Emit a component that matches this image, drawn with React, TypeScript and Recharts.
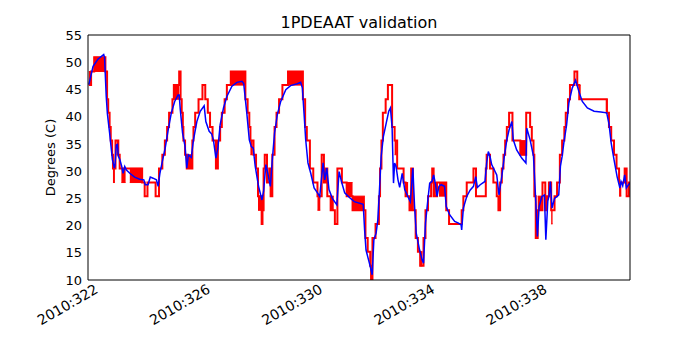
import { ComposedChart, Line, Area, XAxis, YAxis } from 'recharts';

// time axis is day-of-year 2010 (fractional days)
const majorDays = [322, 326, 330, 334, 338];
const minorDays = [322, 323, 324, 325, 326, 327, 328, 329, 330, 331, 332, 333, 334, 335, 336, 337, 338, 339, 340];
const tempTicks = [10, 15, 20, 25, 30, 35, 40, 45, 50, 55];

// telemetry (quantized, red step line)
const redDays = [
  321.67, 321.75, 321.86, 322.26, 322.32, 322.36, 322.41, 322.45, 322.5, 322.53, 322.62, 322.72, 322.77, 322.83,
  323.57, 323.66, 323.76, 324.05, 324.17, 324.29, 324.38, 324.46, 324.53, 324.65, 324.7, 324.89, 324.94, 324.98,
  325.02, 325.04, 325.1, 325.16, 325.36, 325.4, 325.46, 325.58, 325.72, 325.82, 325.91, 325.99, 326.08, 326.2,
  326.27, 326.35, 326.41, 326.51, 326.59, 326.73, 327.25, 327.33, 327.39, 327.43, 327.54, 327.63, 327.7, 327.83,
  327.86, 327.9, 327.94, 328.02, 328.1, 328.15, 328.21, 328.29, 328.36, 328.45, 328.57, 328.77, 329.3, 329.38,
  329.44, 329.55, 329.67, 329.82, 329.97, 330.05, 330.11, 330.17, 330.29, 330.44, 330.53, 330.69, 330.86, 331.07,
  331.53, 331.61, 331.7, 331.73, 331.78, 331.89, 332.01, 332.05, 332.1, 332.15, 332.25, 332.33, 332.48, 332.57,
  332.66, 332.89, 332.96, 333.1, 333.16, 333.22, 333.32, 333.4, 333.48, 333.6, 333.67, 333.76, 333.87, 333.91,
  333.96, 334.08, 334.41, 334.51, 334.96, 335.02, 335.14, 335.38, 335.47, 335.82, 335.85, 335.97, 336.09, 336.21,
  336.27, 336.33, 336.39, 336.45, 336.51, 336.57, 336.65, 336.77, 337.05, 337.26, 337.4, 337.46, 337.52, 337.55,
  337.6, 337.67, 337.84, 337.94, 338.0, 338.07, 338.15, 338.27, 338.36, 338.46, 338.54, 338.62, 338.67, 338.75,
  338.82, 338.98, 339.08, 339.15, 340.13, 340.21, 340.29, 340.39, 340.48, 340.57, 340.7, 340.77, 340.84, 340.92,
  340.96,
];
const redTemps = [
  45.8, 48.3, 50.9, 48.3, 43.2, 40.7, 38.1, 35.6, 33.0, 30.5, 35.6, 33.0, 30.5, 30.5,
  27.9, 25.4, 27.9, 25.4, 30.5, 33.0, 35.6, 38.1, 40.7, 43.2, 45.8, 48.3, 43.2, 40.7,
  38.1, 35.6, 33.0, 30.5, 35.6, 38.1, 40.7, 43.2, 45.8, 43.2, 40.7, 38.1, 35.6, 30.5,
  35.6, 38.1, 40.7, 43.2, 45.8, 48.3, 43.2, 40.7, 38.1, 35.6, 33.0, 30.5, 25.4, 20.3,
  22.8, 30.5, 33.0, 27.9, 30.5, 25.4, 33.0, 38.1, 40.7, 43.2, 45.8, 48.3, 43.2, 38.1,
  35.6, 30.5, 27.9, 25.4, 33.0, 27.9, 30.5, 25.4, 22.8, 20.3, 30.5, 27.9, 25.4, 22.8,
  17.7, 15.2, 12.6, 10.1, 17.7, 20.3, 25.4, 30.5, 35.6, 40.7, 43.2, 45.8, 38.1, 35.6,
  30.5, 27.9, 25.4, 22.8, 30.5, 22.8, 17.7, 15.2, 12.6, 17.7, 22.8, 25.4, 27.9, 30.5,
  25.4, 27.9, 22.8, 20.3, 22.8, 25.4, 27.9, 30.5, 25.4, 30.5, 33.0, 30.5, 27.9, 25.4,
  22.8, 27.9, 30.5, 33.0, 35.6, 38.1, 40.7, 35.6, 33.0, 40.7, 38.1, 35.6, 33.0, 25.4,
  17.7, 22.8, 27.9, 22.8, 25.4, 27.9, 22.8, 25.4, 27.9, 33.0, 35.6, 38.1, 40.7, 43.2,
  45.8, 48.3, 45.8, 43.2, 40.7, 38.1, 35.6, 33.0, 30.5, 27.9, 27.9, 30.5, 25.4, 27.9,
  27.9,
];

// stretches where the telemetry toggles between two adjacent counts
const ditherFrom = [321.67, 321.86, 322.53, 322.66, 322.83, 323.13, 324.7, 325.16, 326.73, 327.43, 327.7, 328.77, 329.82, 330.29, 330.86, 331.07, 332.57, 332.96, 333.48, 333.96, 334.15, 337.05, 337.67, 338.15, 339.15, 340.13, 340.57];
const ditherTo = [321.75, 322.26, 322.6, 322.72, 322.98, 323.57, 324.89, 325.36, 327.25, 327.51, 327.85, 329.3, 329.92, 330.4, 331.07, 331.51, 332.64, 333.05, 333.56, 334.04, 334.4, 337.26, 337.82, 338.2, 339.2, 340.17, 340.65];
const ditherLow = [45.8, 48.3, 27.9, 33.0, 27.9, 27.9, 43.2, 30.5, 45.8, 33.0, 22.8, 45.8, 22.8, 22.8, 25.4, 22.8, 33.0, 25.4, 12.6, 25.4, 25.4, 33.0, 22.8, 20.3, 43.2, 40.7, 25.4];
const ditherHigh = [48.3, 50.9, 30.5, 35.6, 30.5, 30.5, 45.8, 33.0, 48.3, 35.6, 25.4, 48.3, 25.4, 25.4, 27.9, 25.4, 35.6, 27.9, 15.2, 27.9, 27.9, 35.6, 25.4, 22.8, 45.8, 43.2, 27.9];

// model prediction (blue)
const blueDays = [
  321.67, 321.82, 322.0, 322.2, 322.23, 322.29, 322.33, 322.41, 322.51, 322.58, 322.6, 322.65, 322.69, 322.72,
  322.77, 322.84, 322.89, 322.95, 323.01, 323.13, 323.3, 323.48, 323.63, 323.68, 323.78, 323.86, 323.96, 324.08,
  324.14, 324.2, 324.29, 324.39, 324.5, 324.61, 324.73, 324.85, 324.89, 324.93, 325.01, 325.1, 325.16, 325.22,
  325.32, 325.4, 325.52, 325.64, 325.78, 325.84, 325.96, 326.05, 326.11, 326.2, 326.27, 326.35, 326.47, 326.59,
  326.77, 326.95, 327.13, 327.19, 327.3, 327.39, 327.46, 327.53, 327.6, 327.72, 327.84, 327.9, 327.98, 328.05,
  328.14, 328.21, 328.29, 328.39, 328.51, 328.69, 328.86, 329.1, 329.22, 329.28, 329.34, 329.4, 329.48, 329.58,
  329.7, 329.82, 329.9, 330.02, 330.08, 330.15, 330.23, 330.35, 330.51, 330.59, 330.68, 330.79, 330.95, 331.13,
  331.45, 331.5, 331.55, 331.67, 331.77, 331.83, 331.91, 331.97, 332.03, 332.09, 332.17, 332.27, 332.36, 332.42,
  332.48, 332.53, 332.57, 332.62, 332.69, 332.75, 332.84, 332.93, 333.04, 333.13, 333.22, 333.28, 333.34, 333.46,
  333.55, 333.6, 333.67, 333.76, 333.82, 333.9, 333.96, 334.03, 334.08, 334.15, 334.23, 334.35, 334.41, 334.53,
  334.71, 334.83, 334.94, 334.96, 335.02, 335.14, 335.26, 335.38, 335.46, 335.52, 335.62, 335.79, 335.85, 335.91,
  335.97, 336.03, 336.21, 336.29, 336.39, 336.48, 336.57, 336.65, 336.75, 336.8, 336.92, 337.1, 337.25, 337.28,
  337.4, 337.52, 337.58, 337.66, 337.72, 337.82, 337.91, 337.96, 338.03, 338.08, 338.12, 338.18, 338.27, 338.36,
  338.42, 338.48, 338.54, 338.6, 338.7, 338.78, 338.9, 339.02, 339.14, 339.26, 339.44, 339.68, 339.92, 340.13,
  340.21, 340.29, 340.39, 340.5, 340.6, 340.64, 340.7, 340.77, 340.83, 340.92, 340.96,
];
const blueTemps = [
  45.9, 49.25, 50.6, 51.4, 50.9, 43.7, 40.6, 37.0, 32.1, 30.55, 31.0, 34.8, 34.9, 32.7,
  32.2, 30.9, 29.6, 30.85, 30.2, 29.6, 28.9, 28.5, 28.4, 27.5, 27.5, 28.9, 28.7, 28.4,
  27.2, 29.5, 31.8, 34.2, 37.6, 40.7, 42.8, 44.0, 44.0, 41.3, 37.0, 34.5, 30.55, 33.0,
  32.5, 35.75, 39.1, 41.0, 42.0, 39.1, 37.3, 36.8, 35.75, 32.4, 34.2, 38.5, 41.6, 43.7,
  45.6, 46.3, 46.5, 46.1, 40.7, 35.75, 34.5, 34.2, 30.9, 27.2, 24.7, 26.3, 31.2, 29.6,
  27.2, 32.1, 37.0, 40.4, 42.8, 44.95, 45.7, 46.05, 46.3, 45.3, 40.7, 35.75, 31.5, 29.6,
  26.9, 26.0, 25.35, 31.5, 28.4, 30.55, 26.6, 25.0, 23.8, 29.9, 28.0, 26.0, 25.2, 24.4,
  23.9, 19.2, 15.5, 13.1, 10.95, 17.4, 18.6, 21.0, 26.6, 32.7, 36.4, 38.8, 41.0, 41.6,
  38.0, 27.8, 31.5, 30.9, 28.4, 27.0, 29.6, 26.6, 25.35, 24.4, 30.55, 23.6, 18.6, 15.5,
  13.7, 13.1, 20.45, 25.0, 27.8, 28.1, 29.3, 27.5, 25.35, 27.2, 27.5, 27.2, 23.5, 22.0,
  20.75, 20.5, 20.1, 19.2, 23.2, 25.35, 26.5, 27.2, 29.0, 27.0, 27.5, 28.1, 31.5, 33.6,
  32.7, 31.2, 29.3, 25.65, 29.0, 32.7, 35.75, 37.6, 39.1, 35.75, 33.9, 32.4, 31.5, 37.9,
  35.75, 32.7, 26.6, 18.0, 23.5, 25.35, 25.6, 17.4, 24.5, 25.6, 28.1, 23.2, 25.0, 25.35,
  25.65, 30.9, 32.7, 35.15, 38.5, 42.5, 45.25, 46.7, 44.6, 42.8, 41.6, 41.0, 40.85, 40.7,
  38.7, 35.15, 32.1, 29.0, 26.9, 28.1, 27.3, 29.3, 26.9, 27.6, 27.8,
];

const redData = redDays.map((d, i) => ({ d, t: redTemps[i] }));
const blueData = blueDays.map((d, i) => ({ d, t: blueTemps[i] }));
const ditherBands = ditherFrom.map((from, i) => [
  { d: from, r: [ditherLow[i], ditherHigh[i]] },
  { d: ditherTo[i], r: [ditherLow[i], ditherHigh[i]] },
]);

const font = '"DejaVu Sans", Verdana, sans-serif';
const dayDomain = [321.64, 340.96];
const tempDomain = [10, 55];
// axes that only carry inward tick marks; Recharts skips axes with a zero size
const thin = 0.01;

function DateTick({ x, y, payload }: any) {
  const px = x + 1;
  const py = y + 12;
  return (
    <text x={px} y={py} transform={`rotate(-30, ${px}, ${py})`} textAnchor="end" fontSize={14} fontFamily={font} fill="#000">
      {`2010:${payload.value}`}
    </text>
  );
}

export default function App() {
  return (
    <div style={{ position: 'absolute', left: 0, top: 0, width: 700, height: 350, background: '#fff', fontFamily: font }}>
      <div style={{ position: 'absolute', left: 88, width: 542, top: 15, textAlign: 'center', fontSize: 16, lineHeight: '16px', color: '#000' }}>
        1PDEAAT validation
      </div>
      <ComposedChart width={700} height={350} margin={{ top: 35, right: 70, bottom: 0, left: 0 }}>
        <XAxis xAxisId="bMaj" type="number" dataKey="d" domain={dayDomain} allowDataOverflow ticks={majorDays} interval={0} orientation="bottom" mirror height={thin} tick={false} tickSize={5} axisLine={false} tickLine={{ stroke: '#000' }} />
        <XAxis xAxisId="bMin" type="number" dataKey="d" domain={dayDomain} allowDataOverflow ticks={minorDays} interval={0} orientation="bottom" mirror height={thin} tick={false} tickSize={3} axisLine={false} tickLine={{ stroke: '#000' }} />
        <XAxis xAxisId="tMaj" type="number" dataKey="d" domain={dayDomain} allowDataOverflow ticks={majorDays} interval={0} orientation="top" mirror height={thin} tick={false} tickSize={5} axisLine={{ stroke: '#000' }} tickLine={{ stroke: '#000' }} />
        <XAxis xAxisId="tMin" type="number" dataKey="d" domain={dayDomain} allowDataOverflow ticks={minorDays} interval={0} orientation="top" mirror height={thin} tick={false} tickSize={3} axisLine={false} tickLine={{ stroke: '#000' }} />
        <XAxis
          xAxisId="b"
          type="number"
          dataKey="d"
          domain={dayDomain}
          allowDataOverflow
          ticks={majorDays}
          interval={0}
          height={70}
          tick={<DateTick />}
          tickLine={false}
          tickSize={0}
          tickMargin={0}
          axisLine={{ stroke: '#000' }}
        />
        <YAxis yAxisId="lIn" type="number" domain={tempDomain} allowDataOverflow ticks={tempTicks} interval={0} orientation="left" mirror width={thin} tick={false} tickSize={5} axisLine={false} tickLine={{ stroke: '#000' }} />
        <YAxis yAxisId="rIn" type="number" domain={tempDomain} allowDataOverflow ticks={tempTicks} interval={0} orientation="right" mirror width={thin} tick={false} tickSize={5} axisLine={{ stroke: '#000' }} tickLine={{ stroke: '#000' }} />
        <YAxis
          yAxisId="l"
          type="number"
          domain={tempDomain}
          allowDataOverflow
          ticks={tempTicks}
          interval={0}
          width={88}
          tickLine={false}
          tickSize={0}
          tickMargin={6}
          axisLine={{ stroke: '#000' }}
          tick={{ fontSize: 13, fill: '#000', fontFamily: font }}
          label={{ value: 'Degrees (C)', angle: -90, position: 'center', dx: 6, style: { fontSize: 13, fill: '#000', fontFamily: font } }}
        />
        {ditherBands.map((band, i) => (
          <Area
            key={i}
            xAxisId="b"
            yAxisId="l"
            data={band}
            dataKey="r"
            type="linear"
            fill="#ff0000"
            fillOpacity={1}
            stroke="#ff0000"
            strokeWidth={1}
            dot={false}
            activeDot={false}
            isAnimationActive={false}
          />
        ))}
        <Line xAxisId="b" yAxisId="l" data={redData} dataKey="t" type="stepAfter" stroke="#ff0000" strokeWidth={2} dot={false} activeDot={false} isAnimationActive={false} />
        <Line xAxisId="b" yAxisId="l" data={blueData} dataKey="t" type="linear" stroke="#0000ff" strokeWidth={1.5} dot={false} activeDot={false} isAnimationActive={false} />
      </ComposedChart>
    </div>
  );
}
